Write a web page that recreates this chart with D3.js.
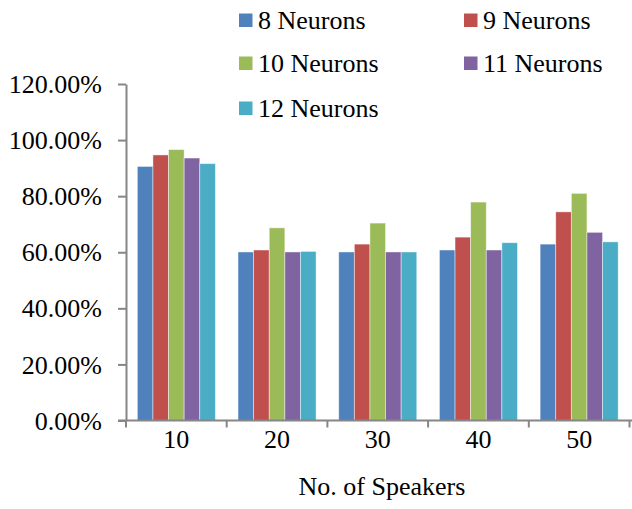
<!DOCTYPE html>
<html>
<head>
<meta charset="utf-8">
<script src="https://cdn.jsdelivr.net/npm/d3@7"></script>
<style>
  html, body { margin: 0; padding: 0; background: #fff; }
  svg { display: block; }
  text { font-family: "Liberation Serif", "Times New Roman", serif; fill: #000; }
</style>
</head>
<body>
<svg id="chart" width="632" height="509"></svg>
<script>
const categories = ["10", "20", "30", "40", "50"];
const seriesNames = ["8 Neurons", "9 Neurons", "10 Neurons", "11 Neurons", "12 Neurons"];
const neurons8  = [90.6, 60.1, 60.1, 60.8, 62.9];
const neurons9  = [94.7, 60.8, 62.9, 65.4, 74.4];
const neurons10 = [96.6, 68.7, 70.4, 77.9, 81.0];
const neurons11 = [93.6, 60.1, 60.1, 60.8, 67.1];
const neurons12 = [91.6, 60.3, 60.1, 63.4, 63.7];
const yTicks = [0, 20, 40, 60, 80, 100, 120];
const colors = ["#4F81BD", "#C0504D", "#9BBB59", "#8064A2", "#4BACC6"];
const xTitle = "No. of Speakers";

const seriesValues = [neurons8, neurons9, neurons10, neurons11, neurons12];

(function () {
const svg = d3.select("#chart");
const mLeft = 126, mRight = 629.5, mTop = 84, mBottom = 420.5;
const axisColor = "#868686";

const x = d3.scaleBand().domain(categories).range([mLeft, mRight]).paddingInner(0.225).paddingOuter(0.1125);
const xs = d3.scaleBand().domain(d3.range(seriesNames.length)).range([0, x.bandwidth()]);
const y = d3.scaleLinear().domain([0, 120]).range([mBottom, mTop]);

// bars
const groups = svg.append("g").selectAll("g")
  .data(categories).join("g")
  .attr("transform", c => `translate(${x(c)},0)`);
groups.selectAll("rect")
  .data((c, ci) => seriesValues.map((vals, si) => ({si, v: vals[ci]})))
  .join("rect")
  .attr("x", d => xs(d.si))
  .attr("width", xs.bandwidth())
  .attr("y", d => y(d.v))
  .attr("height", d => y(0) - y(d.v))
  .attr("fill", d => colors[d.si])
  .attr("stroke", "#ffffff")
  .attr("stroke-opacity", 0.55)
  .attr("stroke-width", 0.8);

// y axis
const yAxis = svg.append("g")
  .attr("transform", `translate(${mLeft},0)`)
  .call(d3.axisLeft(y).tickValues(yTicks).tickFormat(d => d.toFixed(2) + "%").tickSizeInner(8).tickSizeOuter(0).tickPadding(16));
yAxis.select(".domain").attr("stroke", axisColor).attr("stroke-width", 2);
yAxis.selectAll(".tick line").attr("stroke", axisColor).attr("stroke-width", 2);
yAxis.selectAll(".tick text").style("font-size", "26px").attr("font-family", null).attr("fill", "#000").attr("dy", "0.33em");

// x axis with ticks at category boundaries
const n = categories.length;
const boundaries = d3.range(n + 1).map(i => mLeft + i * (mRight - mLeft) / n);
const xg = svg.append("g");
xg.append("line").attr("x1", mLeft - 8).attr("x2", 632).attr("y1", mBottom).attr("y2", mBottom)
  .attr("stroke", axisColor).attr("stroke-width", 2);
xg.selectAll("line.tk").data(boundaries).join("line").attr("class", "tk")
  .attr("x1", d => d).attr("x2", d => d).attr("y1", mBottom).attr("y2", mBottom + 7)
  .attr("stroke", axisColor).attr("stroke-width", 2);
xg.selectAll("text").data(categories).join("text")
  .attr("x", (c, i) => mLeft + (i + 0.5) * (mRight - mLeft) / n)
  .attr("y", 448)
  .attr("text-anchor", "middle")
  .style("font-size", "26px")
  .text(c => c);

svg.append("text").attr("x", 382).attr("y", 495).attr("text-anchor", "middle")
  .style("font-size", "26px").text(xTitle);

// legend
const legendPos = [[239, 29], [464, 29], [239, 72], [464, 72], [239, 117]];
const lg = svg.append("g").selectAll("g").data(seriesNames).join("g")
  .attr("transform", (d, i) => `translate(${legendPos[i][0]},${legendPos[i][1]})`);
lg.append("rect").attr("x", 0).attr("y", -15.5).attr("width", 13.5).attr("height", 13.5)
  .attr("fill", (d, i) => colors[i]);
lg.append("text").attr("x", 19).attr("y", 0).style("font-size", "26px").text(d => d);
})();
</script>
</body>
</html>
